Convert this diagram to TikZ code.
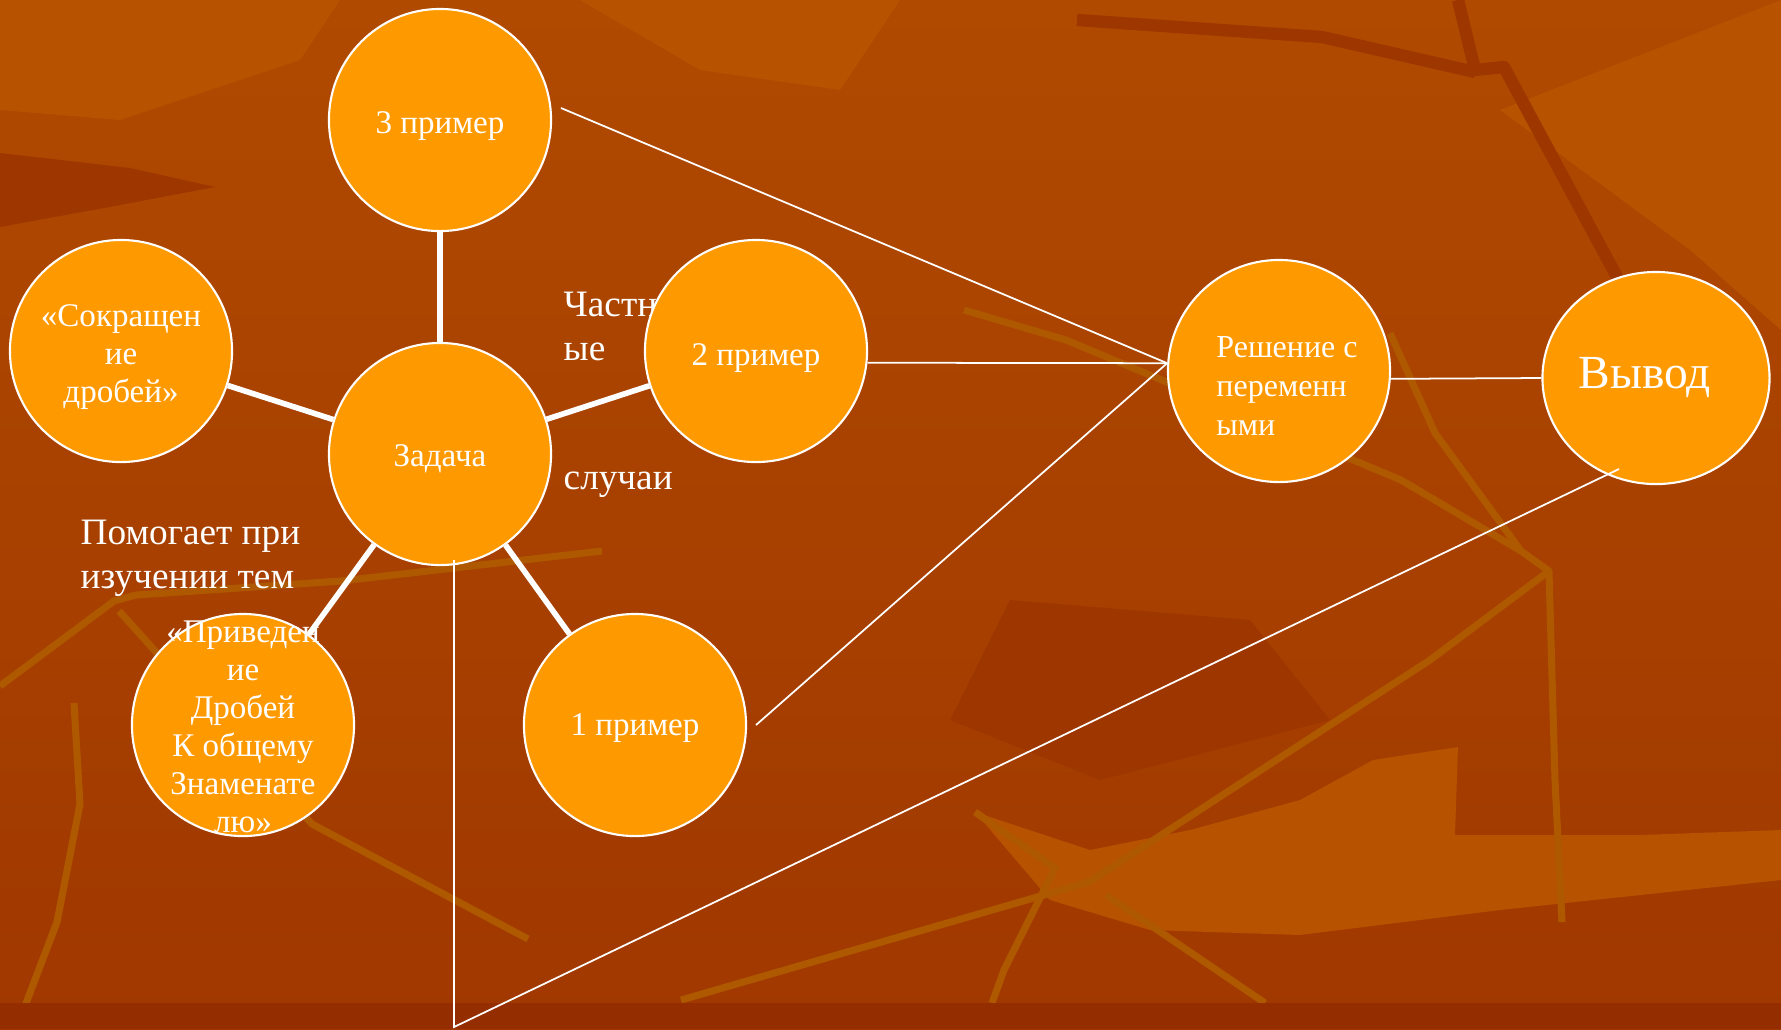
\documentclass[tikz,border=0pt]{standalone}
\usepackage{fontspec}
\setmainfont{Liberation Serif}
\usetikzlibrary{shapes.geometric,positioning}

\definecolor{bgtop}{RGB}{176,74,0}
\definecolor{bgbottom}{RGB}{160,56,0}
\definecolor{bgdark}{RGB}{158,54,0}
\definecolor{bgband}{RGB}{148,46,0}
\definecolor{bglight}{RGB}{182,82,0}
\definecolor{bgstreak}{RGB}{174,88,0}
\definecolor{bubfill}{RGB}{255,153,0}

\tikzset{
  bubble/.style={circle, draw=white, line width=0.6pt, fill=bubfill, minimum size=2.22cm, inner sep=0pt},
  bubtext/.style={text=white, align=center, inner sep=0pt, font=\fontsize{9.4}{10.8}\selectfont},
  note/.style={text=white, align=left, inner sep=0pt, anchor=north west,
    font=\fontsize{10.6}{12.5}\selectfont},
  spoke/.style={white, line width=1.6pt},
  link/.style={white, line width=0.5pt},
  vein/.style={bgstreak, line width=2pt, line join=round},
  darkvein/.style={bgdark, line width=3.5pt, line join=round},
}

\begin{document}
\begin{tikzpicture}[x=0.01cm, y=-0.01cm]
  \useasboundingbox (0,0) rectangle (1781,1029);

  % Background
  \shade[top color=bgtop, bottom color=bgbottom] (0,0) rectangle (1781,1029);
  \fill[bglight] (0,0) -- (340,0) -- (300,60) -- (120,120) -- (0,110) -- cycle;
  \fill[bglight] (580,0) -- (900,0) -- (840,90) -- (700,70) -- cycle;
  \fill[bglight] (1500,110) -- (1781,0) -- (1781,330) -- (1690,250) -- cycle;
  \fill[bglight] (975,812) -- (1090,850) -- (1190,830) -- (1300,800) -- (1373,760) -- (1458,747)
    -- (1455,835) -- (1640,835) -- (1781,830) -- (1781,880) -- (1500,910) -- (1300,935)
    -- (1150,930) -- (1050,900) -- cycle;
  \fill[bgdark] (0,153) -- (130,168) -- (215,187) -- (120,205) -- (0,227) -- cycle;
  \fill[bgdark] (1010,600) -- (1250,620) -- (1330,720) -- (1100,780) -- (950,720) -- cycle;
  \draw[darkvein] (1077,20) -- (1322,37) -- (1475,72);
  \draw[darkvein] (1458,0) -- (1475,70) -- (1504,67) -- (1617,277) -- (1660,420);
  \draw[vein] (964,310) -- (1066,340) -- (1401,480) -- (1521,551);
  \draw[vein] (1390,333) -- (1435,433) -- (1521,551) -- (1549,571) -- (1555,780) -- (1562,922);
  \draw[vein] (681,1000) -- (1089,882) -- (1430,660) -- (1549,571);
  \draw[vein] (975,812) -- (1055,868) -- (1004,970) -- (992,1003);
  \draw[vein] (1106,895) -- (1265,1003);
  \draw[vein] (0,686) -- (114,601) -- (136,595) -- (341,581) -- (602,551);
  \draw[vein] (74,703) -- (80,804) -- (57,922) -- (17,1027);
  \draw[vein] (119,611) -- (312,824) -- (528,939);
  \fill[bgband] (0,1003) rectangle (1781,1029);

  % Side notes (behind the bubbles)
  \node[note] (chast) at (563,291) {Частн\\ые};
  \node[note] (sluch) at (563,471) {случаи};
  \node[note] (pomog) at (80,519) {Помогает при\\изучении тем};

  % Bubbles
  \node[bubble] (zad) at (440,454) {};
  \node[bubble] (p3) at (440,120) {};
  \node[bubble] (sokr) at (121,351) {};
  \node[bubble] (p2) at (756,351) {};
  \node[bubble] (p1) at (635,725) {};
  \node[bubble] (priv) at (243,725) {};
  \node[bubble] (resh) at (1279,371) {};
  \node[bubble, ellipse, minimum width=2.27cm, minimum height=2.12cm] (vyv) at (1656,378) {};

  % Bubble texts
  \node[bubtext] (zadtext) at ([yshift=-0.05cm]zad.center) {Задача};
  \node[bubtext] (p3text) at ([yshift=-0.06cm]p3.center) {3 пример};
  \node[bubtext] (sokrtext) at ([yshift=-0.06cm]sokr.center) {«Сокращен\\ие\\дробей»};
  \node[bubtext] (p2text) at ([yshift=-0.07cm]p2.center) {2 пример};
  \node[bubtext] (p1text) at ([yshift=-0.03cm]p1.center) {1 пример};
  \node[bubtext] (privtext) at ([yshift=-0.02cm]priv.center) {«Приведен\\ие\\Дробей\\К общему\\Знаменате\\лю»};
  \node[bubtext, align=left, font=\fontsize{9.1}{11}\selectfont] (reshtext)
    at ([xshift=0.08cm, yshift=-0.15cm]resh.center) {Решение с\\переменн\\ыми};
  \node[bubtext, font=\fontsize{13.5}{15}\selectfont] (vyvtext)
    at ([xshift=-0.11cm]vyv.center) {Вывод};

  % Spokes from the task
  \draw[spoke] (zad) -- (p3);
  \draw[spoke] (zad) -- (sokr);
  \draw[spoke] (zad) -- (p2);
  \draw[spoke] (zad) -- (priv);
  \draw[spoke] (zad) -- (p1);

  % Thin links
  \coordinate (p3out) at (561,108);
  \coordinate (p1out) at (756,725);
  \coordinate (vyvin) at (1619,469);
  \coordinate (bottom) at (454,1027);
  \coordinate (zadin) at (454,560);
  \draw[link] (p3out) -- (resh.176);
  \draw[link] (p2.-6) -- (resh.176);
  \draw[link] (p1out) -- (resh.176);
  \draw[link] (resh.-4) -- (vyv.west);
  \draw[link] (vyvin) -- (bottom) -- (zadin);
\end{tikzpicture}
\end{document}
